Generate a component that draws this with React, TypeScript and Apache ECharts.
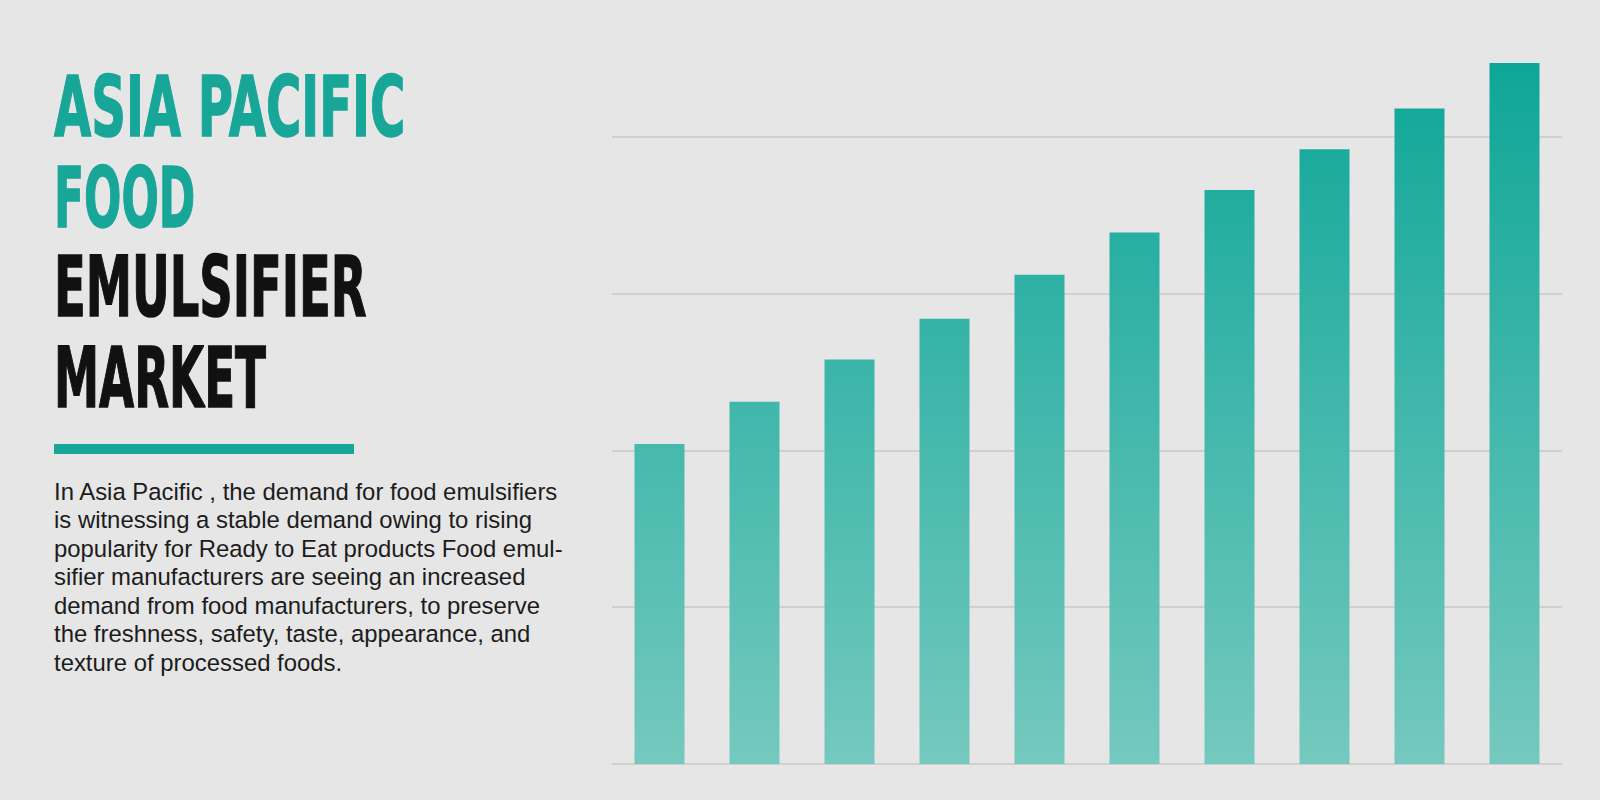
import React, { useEffect, useRef } from 'react';
import * as echarts from 'echarts';

// bar heights, in gridline units
const periods = ['1', '2', '3', '4', '5', '6', '7', '8', '9', '10'];
const marketSize = [2.04, 2.31, 2.58, 2.84, 3.12, 3.39, 3.66, 3.92, 4.18, 4.47];

const titleLines = ['ASIA PACIFIC', 'FOOD', 'EMULSIFIER', 'MARKET'];
const bodyLines = [
    'In Asia Pacific , the demand for food emulsifiers',
    'is witnessing a stable demand owing to rising',
    'popularity for Ready to Eat products Food emul-',
    'sifier manufacturers are seeing an increased',
    'demand from food manufacturers, to preserve',
    'the freshness, safety, taste, appearance, and',
    'texture of processed foods.',
];

const TEAL = '#17a698';
const GRID = '#c9c9c9';

const App = () => {
    const chartRef = useRef(null);

    useEffect(() => {
        const chartDom = chartRef.current;
        if (!chartDom) return;

        const myChart = echarts.init(chartDom, null, { renderer: 'svg' });

        // per line: y of text middle, horizontal squeeze, colour
        const titleStyle = [
            { y: 107, sx: 0.58, fill: TEAL },
            { y: 198, sx: 0.53, fill: TEAL },
            { y: 288, sx: 0.56, fill: '#111111' },
            { y: 378, sx: 0.546, fill: '#111111' },
        ];

        const option = {
            animation: false,
            backgroundColor: '#e6e6e6',
            grid: { left: 612, width: 950, top: 0, bottom: 36 },
            xAxis: {
                type: 'category',
                data: periods,
                axisLine: { show: false },
                axisTick: { show: false },
                axisLabel: { show: false },
            },
            yAxis: {
                type: 'value',
                min: 0,
                max: 4.872,
                interval: 1,
                axisLabel: { show: false },
                axisLine: { show: false },
                axisTick: { show: false },
                splitLine: {
                    // the last line sits on the top edge and is not in the picture
                    lineStyle: { color: [GRID, GRID, GRID, GRID, GRID, 'rgba(0,0,0,0)'], width: 1.5 },
                },
            },
            series: [
                {
                    type: 'bar',
                    data: marketSize,
                    barWidth: 50,
                    itemStyle: {
                        opacity: 0.95,
                        color: new echarts.graphic.LinearGradient(
                            0, 62, 0, 764,
                            [
                                { offset: 0, color: '#02a394' },
                                { offset: 1, color: '#6fc7bc' },
                            ],
                            true
                        ),
                    },
                },
            ],
            graphic: [
                ...titleLines.map((t, i) => ({
                    type: 'text',
                    x: 54,
                    y: titleStyle[i].y,
                    scaleX: titleStyle[i].sx,
                    style: {
                        text: t,
                        fontFamily: 'DejaVu Sans',
                        fontWeight: 'bold',
                        fontSize: 83,
                        fill: titleStyle[i].fill,
                        stroke: titleStyle[i].fill,
                        lineWidth: 1.5,
                        align: 'left',
                        verticalAlign: 'middle',
                    },
                })),
                {
                    type: 'rect',
                    shape: { x: 54, y: 444, width: 300, height: 10 },
                    style: { fill: TEAL },
                },
                {
                    type: 'text',
                    x: 54,
                    y: 477,
                    style: {
                        text: bodyLines.join('\n'),
                        fontFamily: 'Liberation Sans, Arial, sans-serif',
                        fontSize: 23.9,
                        lineHeight: 28.5,
                        fill: '#1c1c1c',
                        align: 'left',
                        verticalAlign: 'top',
                    },
                },
            ],
        };

        myChart.setOption(option);

        return () => {
            myChart.dispose();
        };
    }, []);

    return (
        <div
            ref={chartRef}
            style={{ position: 'absolute', left: 0, top: 0, width: '1600px', height: '800px' }}
        ></div>
    );
};

export default App;
